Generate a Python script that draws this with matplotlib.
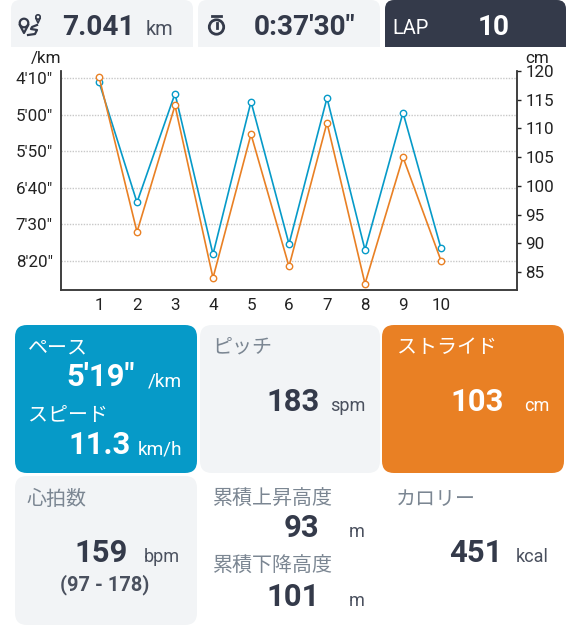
import matplotlib
matplotlib.use("Agg")
import matplotlib.pyplot as plt
from matplotlib.patches import FancyBboxPatch, Rectangle, Circle

plt.rcParams['font.family'] = ['Roboto', 'Noto Sans CJK JP', 'DejaVu Sans']

# lap data
laps = [1, 2, 3, 4, 5, 6, 7, 8, 9, 10]
pace_sec = [255, 420, 271, 491, 282, 477, 277, 485, 297, 483]
stride_cm = [119, 92, 114, 84, 109, 86, 111, 83, 105, 87]

pace_ticks = [250, 300, 350, 400, 450, 500]
pace_labels = ["4'10\"", "5'00\"", "5'50\"", "6'40\"", "7'30\"", "8'20\""]
stride_ticks = [85, 90, 95, 100, 105, 110, 115, 120]

BLUE = '#069ac8'
ORANGE = '#e98024'
DARK = '#343a4a'
PALE = '#f2f4f6'
GREY = '#7b8692'
UNIT = '#4a505e'
W, H = 578, 640

fig = plt.figure(figsize=(W / 100, H / 100), dpi=100)

# background layer in pixel coordinates
bg = fig.add_axes([0, 0, 1, 1])
bg.set_xlim(0, W)
bg.set_ylim(H, 0)
bg.axis('off')


def px(size):
    return size * 0.72


def card(x0, y0, x1, y1, color, r=12):
    bg.add_patch(FancyBboxPatch((x0 + r, y0 + r), x1 - x0 - 2 * r, y1 - y0 - 2 * r,
                                boxstyle=f"round,pad={r},rounding_size={r}",
                                fc=color, ec='none'))


def label(x, y, s, size, color=DARK, weight='normal', ha='left'):
    bg.text(x, y, s, fontsize=px(size), color=color, fontweight=weight,
            ha=ha, va='baseline')


# top row, square bottom corners
for x0, x1, col in [(11, 193, PALE), (198, 380, PALE), (385, 566, DARK)]:
    card(x0, 0, x1, 47, col, r=9)
    bg.add_patch(Rectangle((x0, 30), x1 - x0, 17, fc=col, ec='none'))

label(62, 35, "7.041", 28, weight='bold')
label(146, 35, "km", 20, color=UNIT)
label(254, 35, "0:37'30\"", 28, weight='bold')
label(392, 34, "LAP", 20, color='white')
label(478, 35, "10", 28, color='white', weight='bold')

# distance icon
bg.add_patch(Circle((24, 23), 4.3, fc='none', ec=DARK, lw=1.6))
bg.plot([19.8, 24, 28.2], [25, 33, 25], color=DARK, lw=1.6)
bg.add_patch(Circle((38, 17), 2.2, fc='none', ec=DARK, lw=1.2))
bg.plot([36, 38, 40], [18.5, 23, 18.5], color=DARK, lw=1.2)
bg.plot([37, 32, 31, 37, 35, 28], [25, 27, 29, 30, 34, 35], color=DARK, lw=1.6)
# stopwatch icon
bg.add_patch(Circle((216.5, 27), 7.2, fc='none', ec=DARK, lw=2))
bg.plot([212, 221], [16, 16], color=DARK, lw=2)
bg.plot([216.5, 216.5], [23, 28], color=DARK, lw=2)

# cards
card(15, 325, 197, 473, BLUE)
card(200, 325, 380, 473, PALE)
card(382, 325, 564, 473, ORANGE)
card(15, 476, 197, 625, PALE)

label(28, 353, "ペース", 20, color='white')
label(66, 386, "5'19\"", 31, color='white', weight='bold')
label(148, 387, "/km", 19, color='white')
label(28, 421, "スピード", 20, color='white')
label(68, 454, "11.3", 31, color='white', weight='bold')
label(138, 454, "km/h", 19, color='white')

label(212, 352, "ピッチ", 20, color=GREY)
label(266, 411, "183", 31, weight='bold')
label(330, 411, "spm", 18, color=UNIT)

label(397, 353, "ストライド", 20, color='white')
label(450, 411, "103", 31, color='white', weight='bold')
label(524, 411, "cm", 18, color='white')

label(27, 505, "心拍数", 20, color=GREY)
label(74, 562, "159", 31, weight='bold')
label(144, 562, "bpm", 18, color=UNIT)
label(60, 590, "(97 - 178)", 20, color=UNIT, weight='bold')

label(212, 505, "累積上昇高度", 20, color=GREY)
label(284, 537, "93", 31, weight='bold')
label(349, 537, "m", 18, color=UNIT)
label(212, 572, "累積下降高度", 20, color=GREY)
label(266, 606, "101", 31, weight='bold')
label(349, 606, "m", 18, color=UNIT)

label(396, 505, "カロリー", 20, color=GREY)
label(449, 562, "451", 31, weight='bold')
label(516, 562, "kcal", 18, color=UNIT)

# chart
left, right, top, bottom = 61, 517, 71, 290
ax = fig.add_axes([left / W, 1 - bottom / H, (right - left) / W, (bottom - top) / H])
ax.patch.set_alpha(0)
ax.set_xlim(0, 12)
ax.set_ylim(540, 240)
ax.set_xticks(laps)
ax.set_yticks(pace_ticks)
ax.set_yticklabels(pace_labels)
ax.grid(axis='y', color='#c8c8c8', lw=1, ls=(0, (1, 1)))
ax.tick_params(axis='both', length=0, labelsize=px(17), colors='#222222', pad=6)
ax.plot(laps, pace_sec, color=BLUE, lw=1.2, marker='o', ms=4.6, mfc='white', mew=1)

ax2 = ax.twinx()
ax2.set_ylim(81.9, 120)
ax2.set_yticks(stride_ticks)
ax2.tick_params(axis='y', length=3, width=1, labelsize=px(17), colors='#222222', pad=3)
ax2.plot(laps, stride_cm, color=ORANGE, lw=1.2, marker='o', ms=4.6, mfc='white', mew=1)

for a in (ax, ax2):
    a.spines['top'].set_visible(False)
    for s in ('left', 'right', 'bottom'):
        a.spines[s].set_color('#3a3a3a')
        a.spines[s].set_linewidth(1.1)

label(31, 63, "/km", 17, color='#222222')
label(525, 63, "cm", 17, color='#222222')

fig.savefig('out.png', dpi=100)
